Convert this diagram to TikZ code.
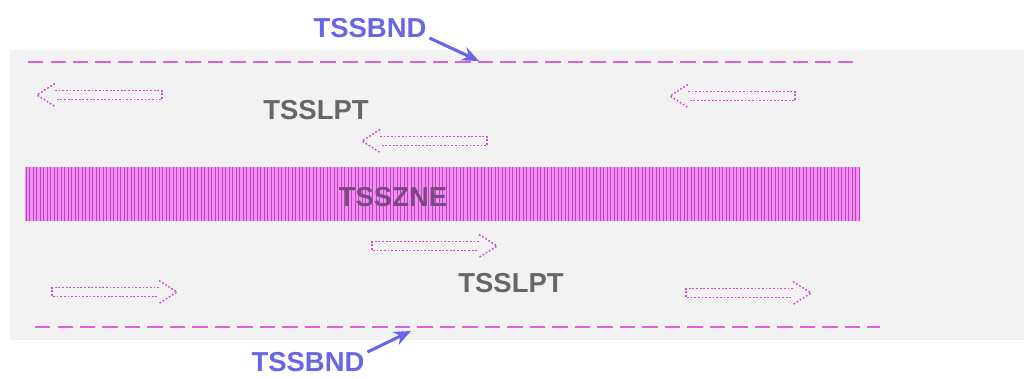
\documentclass[tikz,border=0pt]{standalone}
\usepackage{fontspec}
\setmainfont{Liberation Sans}
\usepackage{xcolor}
\usetikzlibrary{arrows.meta, positioning, calc}

\definecolor{lanemag}{HTML}{D24BD2}
\definecolor{bndmag}{HTML}{DA62DA}
\definecolor{zonefill}{HTML}{F98CF9}
\definecolor{zoneline}{HTML}{AE4AB4}
\definecolor{zonetext}{HTML}{7A4A80}
\definecolor{calloutblue}{HTML}{6666E6}
\definecolor{sepgray}{HTML}{F2F2F2}
\definecolor{lptgray}{HTML}{666666}

\tikzset{
  label/.style={font=\bfseries\fontsize{19.5}{22}\selectfont, inner sep=0pt},
  lane/.style={lanemag, line width=1pt, dash pattern=on 1.3pt off 1.3pt},
  boundary/.style={bndmag, line width=2pt, dash pattern=on 11pt off 5pt},
  callout/.style={calloutblue, line width=2.2pt, -{Stealth[length=12pt,width=10pt]}}
}

\begin{document}
\begin{tikzpicture}[x=0.025cm, y=-0.025cm]
  \useasboundingbox (0,0) rectangle (1024,378);

  % Separation scheme area
  \fill[sepgray] (10,50) rectangle (1024,340);

  % Boundaries
  \draw[boundary] (28,62) -- (855,62);
  \draw[boundary] (35,327) -- (880,327);

  % Separation zone
  \fill[zonefill] (25,167) rectangle (860,221);
  \foreach \x in {26,29.5,...,859}
    \draw[zoneline, line width=0.45pt] (\x,167) -- (\x,221);
  \node[label, text=zonetext] (zne) at (393,197) {TSSZNE};

  % Lane arrows: tail x, y, direction
  \foreach \x/\y/\d in {162/95/-1, 795/96/-1, 487/141/-1,
                        372/246/1, 52/292/1, 686/293/1} {
    \draw[lane] ({\x+\d*107},{\y-4.5}) -- (\x,{\y-4.5}) -- (\x,{\y+4.5}) -- ({\x+\d*107},{\y+4.5});
    \draw[lane] ({\x+\d*107},{\y-11.5}) -- ({\x+\d*125},\y) -- ({\x+\d*107},{\y+11.5});
  }

  % Lane labels
  \node[label, text=lptgray] (lpttop) at (316,110) {TSSLPT};
  \node[label, text=lptgray] (lptbot) at (511,283) {TSSLPT};

  % Boundary labels
  \node[label, text=calloutblue] (bndtop) at (370,28) {TSSBND};
  \coordinate (bndtopend) at (479,61);
  \draw[callout] ([xshift=2pt]bndtop.south east) -- (bndtopend);

  \node[label, text=calloutblue] (bndbot) at (308,362) {TSSBND};
  \coordinate (bndbotend) at (411,331);
  \draw[callout] ([xshift=2pt]bndbot.north east) -- (bndbotend);
\end{tikzpicture}
\end{document}
